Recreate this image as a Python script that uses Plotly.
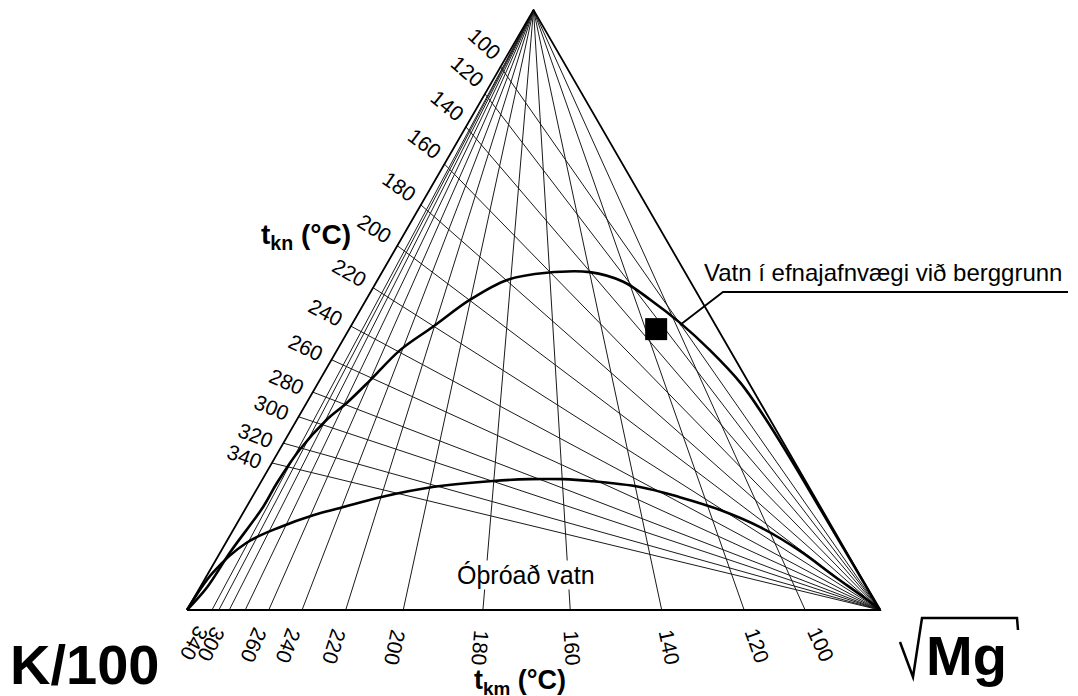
import math
import plotly.graph_objects as go

# ---------------- data ----------------
temps = [100, 120, 140, 160, 180, 200, 220, 240, 260, 280, 300, 320, 340]
# Na fraction on the Na-K edge where each t_kn isotherm ends (lines radiate from the sqrt(Mg) corner)
tkn_na_edge = [0.905, 0.860, 0.805, 0.743, 0.675, 0.607, 0.537, 0.473, 0.417, 0.363, 0.322, 0.278, 0.245]
# K fraction on the K-Mg edge where each t_km isotherm ends (lines radiate from the Na corner)
tkm_k_edge = [0.108, 0.196, 0.315, 0.447, 0.573, 0.688, 0.771, 0.834, 0.882, 0.916, 0.939, 0.954, 0.964]
tkn_labels = ["100", "120", "140", "160", "180", "200", "220", "240", "260", "280", "300", "320", "340"]
tkm_labels = ["100", "120", "140", "160", "180", "200", "220", "240", "260", "", "300", "", "340"]

# full equilibrium curve (Na/1000, K/100, sqrt(Mg) fractions)
full_na = [0.000, 0.038, 0.095, 0.172, 0.212, 0.267, 0.317, 0.345, 0.383, 0.433, 0.472, 0.517, 0.550,
           0.562, 0.563, 0.547, 0.517, 0.478, 0.433, 0.378, 0.322, 0.250, 0.172, 0.083, 0.000]
full_k = [1.000, 0.952, 0.891, 0.804, 0.764, 0.704, 0.640, 0.597, 0.544, 0.476, 0.409, 0.333, 0.263,
          0.200, 0.137, 0.097, 0.073, 0.049, 0.029, 0.012, 0.006, 0.003, 0.002, 0.001, 0.000]
full_mg = [0.000, 0.010, 0.014, 0.024, 0.024, 0.029, 0.043, 0.058, 0.073, 0.091, 0.119, 0.150, 0.187,
           0.238, 0.300, 0.356, 0.410, 0.473, 0.538, 0.610, 0.672, 0.747, 0.826, 0.916, 1.000]

# immature water boundary
imm_na = [0.000, 0.062, 0.112, 0.138, 0.158, 0.170, 0.188, 0.205, 0.215, 0.218, 0.218, 0.215, 0.205,
          0.188, 0.167, 0.138, 0.098, 0.058, 0.017, 0.000]
imm_k = [1.000, 0.932, 0.858, 0.797, 0.739, 0.694, 0.627, 0.543, 0.451, 0.396, 0.348, 0.311, 0.244,
         0.195, 0.148, 0.104, 0.066, 0.039, 0.010, 0.000]
imm_mg = [0.000, 0.006, 0.030, 0.065, 0.103, 0.136, 0.185, 0.252, 0.334, 0.386, 0.434, 0.474, 0.551,
          0.617, 0.685, 0.758, 0.836, 0.903, 0.973, 1.000]

# sample point (black square)
sample_na = [0.468]
sample_k = [0.089]
sample_mg = [0.443]

# ---------------- helpers ----------------
H = math.sqrt(3) / 2


def cart(na, k, mg):
    s = na + k + mg
    n, m = na / s, mg / s
    return m + n / 2, n * H


def carts(nas, ks, mgs):
    xs, ys = [], []
    for a, b, c in zip(nas, ks, mgs):
        x, y = cart(a, b, c)
        xs.append(x)
        ys.append(y)
    return xs, ys


NA = cart(1, 0, 0)
KC = cart(0, 1, 0)
MG = cart(0, 0, 1)

# page is shown with an 8px body margin, so the figure is 8px smaller and shifted
OFF = 8.0
W, HH = 1078 - OFF, 696 - OFF
PX = 693.0
X0, Y0 = 187.0 - OFF, 610.0 - OFF


def pd(px, py):
    """page pixel -> data coordinates"""
    return (px - OFF - X0) / PX, (Y0 - (py - OFF)) / PX


FONT = "Liberation Sans, Arial, Helvetica, sans-serif"
fig = go.Figure()

# t_kn isotherms
xs, ys = [], []
for n in tkn_na_edge:
    p = cart(n, 1 - n, 0)
    xs += [MG[0], p[0], None]
    ys += [MG[1], p[1], None]
fig.add_trace(go.Scatter(x=xs, y=ys, mode="lines", line=dict(color="#1a1a1a", width=1),
                         hoverinfo="skip", showlegend=False))

# t_km isotherms
xs, ys = [], []
for k in tkm_k_edge:
    p = cart(0, k, 1 - k)
    xs += [NA[0], p[0], None]
    ys += [NA[1], p[1], None]
fig.add_trace(go.Scatter(x=xs, y=ys, mode="lines", line=dict(color="#1a1a1a", width=1),
                         hoverinfo="skip", showlegend=False))

# triangle frame
fig.add_trace(go.Scatter(x=[KC[0], MG[0], NA[0], KC[0]], y=[KC[1], MG[1], NA[1], KC[1]],
                         mode="lines", line=dict(color="black", width=1.8),
                         hoverinfo="skip", showlegend=False))

# curves
fx, fy = carts(full_na, full_k, full_mg)
fig.add_trace(go.Scatter(x=fx, y=fy, mode="lines", line=dict(color="black", width=2.6, shape="spline"),
                         hoverinfo="skip", showlegend=False))
ix, iy = carts(imm_na, imm_k, imm_mg)
fig.add_trace(go.Scatter(x=ix, y=iy, mode="lines", line=dict(color="black", width=2.6, shape="spline"),
                         hoverinfo="skip", showlegend=False))

# sample
sx, sy = carts(sample_na, sample_k, sample_mg)
fig.add_trace(go.Scatter(x=sx, y=sy, mode="markers",
                         marker=dict(symbol="square", size=22, color="black"),
                         hoverinfo="skip", showlegend=False))

annotations = []
# left edge labels (t_kn)
for n, lab in zip(tkn_na_edge, tkn_labels):
    p = cart(n, 1 - n, 0)
    dx, dy = p[0] - MG[0], p[1] - MG[1]
    L = math.hypot(dx, dy)
    ux, uy = dx / L, dy / L
    pos = (p[0] + ux * 0.041, p[1] + uy * 0.041)
    ang = math.degrees(math.atan2(dy, -dx))
    annotations.append(dict(x=pos[0], y=pos[1], xref="x", yref="y", text=lab, showarrow=False,
                            textangle=0.55 * ang + 12, font=dict(family=FONT, size=21, color="black"),
                            xanchor="center", yanchor="middle"))

# bottom edge labels (t_km)
for k, lab in zip(tkm_k_edge, tkm_labels):
    if not lab:
        continue
    p = cart(0, k, 1 - k)
    dx, dy = p[0] - NA[0], p[1] - NA[1]
    L = math.hypot(dx, dy)
    ux, uy = dx / L, dy / L
    pos = (p[0] + ux * 0.055, p[1] + uy * 0.055)
    ang = math.degrees(math.atan2(-dy, dx))
    annotations.append(dict(x=pos[0], y=pos[1], xref="x", yref="y", text=lab, showarrow=False,
                            textangle=ang, font=dict(family=FONT, size=21, color="black"),
                            xanchor="center", yanchor="middle"))

# axis titles and texts
x, y = pd(306, 236)
annotations.append(dict(x=x, y=y, xref="x", yref="y", showarrow=False,
                        text="<b>t<sub>kn</sub> (°C)</b>", font=dict(family=FONT, size=28, color="black")))
x, y = pd(520, 682)
annotations.append(dict(x=x, y=y, xref="x", yref="y", showarrow=False,
                        text="<b>t<sub>km</sub> (°C)</b>", font=dict(family=FONT, size=27, color="black")))
x, y = pd(8, 664)
annotations.append(dict(x=x, y=y, xref="x", yref="y", showarrow=False, xanchor="left",
                        text="<b>K/100</b>", font=dict(family=FONT, size=56, color="black")))
x, y = pd(924, 655)
annotations.append(dict(x=x, y=y, xref="x", yref="y", showarrow=False, xanchor="left",
                        text="<b>Mg</b>", font=dict(family=FONT, size=56, color="black")))
x, y = pd(702, 272)
annotations.append(dict(x=x, y=y, xref="x", yref="y", showarrow=False, xanchor="left",
                        text="Vatn í efnajafnvægi við berggrunn", font=dict(family=FONT, size=24, color="black")))
x, y = pd(526, 575)
annotations.append(dict(x=x, y=y, xref="x", yref="y", showarrow=False, bgcolor="white", borderpad=0,
                        text="Óþróað vatn", font=dict(family=FONT, size=25, color="black")))


def path(points):
    d = ""
    for i, (px, py) in enumerate(points):
        xx, yy = pd(px, py)
        d += ("M" if i == 0 else "L") + f"{xx:.5f},{yy:.5f} "
    return d.strip()


shapes = [
    dict(type="path", xref="x", yref="y", path=path([(680, 325), (723, 292), (1068, 292)]),
         line=dict(color="black", width=1.8)),
    dict(type="path", xref="x", yref="y",
         path=path([(900, 642), (913, 677), (922, 618), (1017, 618), (1018, 630)]),
         line=dict(color="black", width=2.5)),
]

fig.update_layout(
    width=W, height=HH,
    margin=dict(l=0, r=0, t=0, b=0),
    paper_bgcolor="white", plot_bgcolor="white",
    xaxis=dict(range=[-X0 / PX, (W - X0) / PX], visible=False, fixedrange=True),
    yaxis=dict(range=[(Y0 - HH) / PX, Y0 / PX], visible=False, fixedrange=True),
    annotations=annotations, shapes=shapes, showlegend=False,
)

fig.write_html("out.html")
